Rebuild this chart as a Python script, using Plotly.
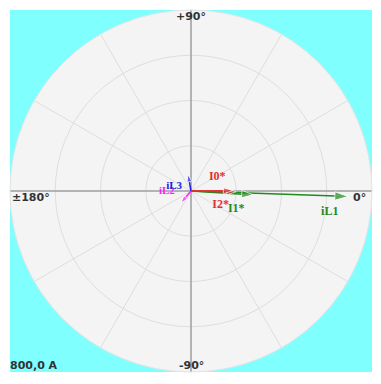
import plotly.graph_objects as go

# Phasor data (magnitude in A, angle in degrees)
names = ["iL1", "iL2", "iL3", "I1*", "I2*", "I0*"]
magnitudes = [695, 70, 75, 275, 200, 185]
angles = [-2.0, -130.0, 100.0, -3.5, -1.0, 0.5]
colors = ["#1f8a1f", "#ff20ff", "#2020e0", "#1f8a1f", "#e03030", "#e03030"]
label_pos = ["bottom left", "top left", "bottom left", "bottom left", "bottom left", "top left"]
head_sizes = [14, 8, 8, 12, 10, 10]

r_max = 800
ring_vals = [200, 400, 600, 800]
axis_labels = ["+90°", "-90°", "0°", "±180°"]
scale_label = "800,0 A"

fig = go.Figure()

# darker main axes
fig.add_trace(go.Scatterpolar(r=[r_max, 0, r_max], theta=[0, 0, 180], mode="lines",
                              line=dict(color="#a0a0a0", width=1.5), hoverinfo="skip", showlegend=False))
fig.add_trace(go.Scatterpolar(r=[r_max, 0, r_max], theta=[90, 0, 270], mode="lines",
                              line=dict(color="#a0a0a0", width=1.5), hoverinfo="skip", showlegend=False))

for n, m, a, c, p, hs in zip(names, magnitudes, angles, colors, label_pos, head_sizes):
    fig.add_trace(go.Scatterpolar(
        r=[0, m], theta=[0, a], mode="lines+markers+text",
        line=dict(color=c, width=1.5),
        marker=dict(symbol="arrow", size=[0, hs], color=c, angleref="previous"),
        text=["", n], textposition=p,
        textfont=dict(family="Liberation Serif", size=12 if m > 100 else 11, color=c, weight="bold"),
        showlegend=False, cliponaxis=False))

fig.update_layout(
    width=381, height=384,
    margin=dict(l=10, r=9, t=10, b=12),
    paper_bgcolor="white",
    polar=dict(
        domain=dict(x=[0, 1], y=[0, 1]),
        bgcolor="#f4f4f4",
        radialaxis=dict(range=[0, r_max], tickvals=ring_vals, showticklabels=False, ticks="",
                        showline=False, gridcolor="#dedede", gridwidth=1),
        angularaxis=dict(direction="counterclockwise", rotation=0, dtick=30, showticklabels=False,
                         ticks="", gridcolor="#dedede", linecolor="#e4e4e4", linewidth=1),
    ),
    shapes=[dict(type="rect", xref="paper", yref="paper", x0=0, x1=1, y0=0, y1=1,
                 fillcolor="#80ffff", line=dict(width=0), layer="below")],
)

lab_font = dict(family="DejaVu Sans", size=11, color="#333333", weight="bold")
ann_xy = [(0.5, 0.981, "center"), (0.5, 0.017, "center"), (0.99, 0.483, "right"), (0.0, 0.483, "left")]
for (x, y, xa), t in zip(ann_xy, axis_labels):
    fig.add_annotation(x=x, y=y, xref="paper", yref="paper", text=t, showarrow=False,
                       xanchor=xa, yanchor="middle", font=lab_font)
fig.add_annotation(x=-0.006, y=0.019, xref="paper", yref="paper", text=scale_label, showarrow=False,
                   xanchor="left", yanchor="middle", font=lab_font)

fig.write_html("out.html")
